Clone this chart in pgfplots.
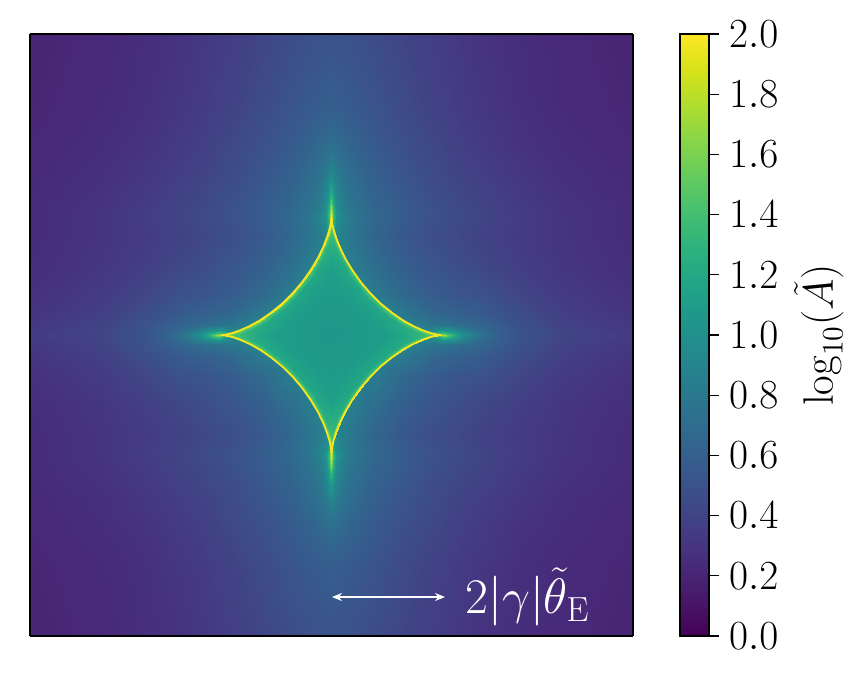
\RequirePackage{fix-cm}
\documentclass[border=0pt]{standalone}
\usepackage{pgfplots}
\usepackage{pgfplotstable}
\pgfplotsset{compat=1.18}
\usetikzlibrary{arrows.meta}

\definecolor{cyel}{HTML}{F5E51F}

% one quadrant, x and y in pixels from the centre; z = log10(A)
\pgfplotstableread[row sep=\\]{
x y z\\
0 0 .92\\ 2 0 .92\\ 5 0 .92\\ 10 0 .92\\ 20 0 .92\\ 40 0 .92\\ 70 0 .92\\ 100 0 1.0\\ 112 0 1.8\\ 120 0 1.35\\ 130 0 1.0\\ 145 0 .80\\ 165 0 .62\\ 190 0 .51\\ 230 0 .41\\ 302 0 .34\\
0 2 .92\\ 2 2 .92\\ 5 2 .92\\ 10 2 .92\\ 20 2 .92\\ 40 2 .92\\ 70 2 .92\\ 100 2 .95\\ 112 2 1.4\\ 120 2 1.2\\ 130 2 .98\\ 145 2 .78\\ 165 2 .61\\ 190 2 .51\\ 230 2 .41\\ 302 2 .34\\
0 5 .92\\ 2 5 .92\\ 5 5 .92\\ 10 5 .92\\ 20 5 .92\\ 40 5 .92\\ 70 5 .92\\ 100 5 .90\\ 112 5 1.05\\ 120 5 1.0\\ 130 5 .88\\ 145 5 .72\\ 165 5 .60\\ 190 5 .50\\ 230 5 .40\\ 302 5 .33\\
0 10 .92\\ 2 10 .92\\ 5 10 .92\\ 10 10 .92\\ 20 10 .92\\ 40 10 .92\\ 70 10 .92\\ 100 10 .78\\ 112 10 .76\\ 120 10 .74\\ 130 10 .70\\ 145 10 .66\\ 165 10 .58\\ 190 10 .49\\ 230 10 .39\\ 302 10 .32\\
0 20 .92\\ 2 20 .92\\ 5 20 .92\\ 10 20 .92\\ 20 20 .92\\ 40 20 .92\\ 70 20 .82\\ 100 20 .68\\ 112 20 .65\\ 120 20 .63\\ 130 20 .61\\ 145 20 .59\\ 165 20 .53\\ 190 20 .46\\ 230 20 .37\\ 302 20 .30\\
0 40 .92\\ 2 40 .92\\ 5 40 .92\\ 10 40 .92\\ 20 40 .92\\ 40 40 .85\\ 70 40 .68\\ 100 40 .58\\ 112 40 .56\\ 120 40 .54\\ 130 40 .52\\ 145 40 .51\\ 165 40 .47\\ 190 40 .41\\ 230 40 .34\\ 302 40 .28\\
0 70 .92\\ 2 70 .92\\ 5 70 .92\\ 10 70 .92\\ 20 70 .85\\ 40 70 .72\\ 70 70 .60\\ 100 70 .52\\ 112 70 .50\\ 120 70 .48\\ 130 70 .46\\ 145 70 .43\\ 165 70 .40\\ 190 70 .36\\ 230 70 .31\\ 302 70 .26\\
0 100 .92\\ 2 100 .92\\ 5 100 .92\\ 10 100 .86\\ 20 100 .78\\ 40 100 .66\\ 70 100 .55\\ 100 100 .47\\ 112 100 .46\\ 120 100 .44\\ 130 100 .42\\ 145 100 .40\\ 165 100 .37\\ 190 100 .34\\ 230 100 .30\\ 302 100 .25\\
0 120 2.0\\ 2 120 1.4\\ 5 120 1.05\\ 10 120 .92\\ 20 120 .80\\ 40 120 .68\\ 70 120 .58\\ 100 120 .50\\ 112 120 .48\\ 120 120 .46\\ 130 120 .44\\ 145 120 .42\\ 165 120 .38\\ 190 120 .35\\ 230 120 .30\\ 302 120 .25\\
0 128 1.75\\ 2 128 1.3\\ 5 128 1.0\\ 10 128 .87\\ 20 128 .77\\ 40 128 .66\\ 70 128 .57\\ 100 128 .49\\ 112 128 .47\\ 120 128 .45\\ 130 128 .43\\ 145 128 .41\\ 165 128 .38\\ 190 128 .34\\ 230 128 .29\\ 302 128 .25\\
0 138 1.35\\ 2 138 1.15\\ 5 138 .95\\ 10 138 .84\\ 20 138 .75\\ 40 138 .65\\ 70 138 .56\\ 100 138 .48\\ 112 138 .46\\ 120 138 .44\\ 130 138 .42\\ 145 138 .40\\ 165 138 .37\\ 190 138 .33\\ 230 138 .29\\ 302 138 .24\\
0 150 1.1\\ 2 150 1.0\\ 5 150 .90\\ 10 150 .80\\ 20 150 .72\\ 40 150 .63\\ 70 150 .54\\ 100 150 .46\\ 112 150 .44\\ 120 150 .43\\ 130 150 .41\\ 145 150 .39\\ 165 150 .36\\ 190 150 .32\\ 230 150 .28\\ 302 150 .24\\
0 165 .90\\ 2 165 .88\\ 5 165 .82\\ 10 165 .76\\ 20 165 .70\\ 40 165 .61\\ 70 165 .52\\ 100 165 .45\\ 112 165 .43\\ 120 165 .41\\ 130 165 .39\\ 145 165 .37\\ 165 165 .34\\ 190 165 .31\\ 230 165 .27\\ 302 165 .23\\
0 190 .72\\ 2 190 .72\\ 5 190 .70\\ 10 190 .68\\ 20 190 .64\\ 40 190 .57\\ 70 190 .49\\ 100 190 .43\\ 112 190 .41\\ 120 190 .39\\ 130 190 .37\\ 145 190 .35\\ 165 190 .32\\ 190 190 .29\\ 230 190 .26\\ 302 190 .22\\
0 230 .60\\ 2 230 .60\\ 5 230 .59\\ 10 230 .58\\ 20 230 .56\\ 40 230 .52\\ 70 230 .45\\ 100 230 .39\\ 112 230 .37\\ 120 230 .36\\ 130 230 .34\\ 145 230 .32\\ 165 230 .30\\ 190 230 .27\\ 230 230 .24\\ 302 230 .21\\
0 302 .50\\ 2 302 .50\\ 5 302 .50\\ 10 302 .50\\ 20 302 .49\\ 40 302 .46\\ 70 302 .41\\ 100 302 .36\\ 112 302 .35\\ 120 302 .34\\ 130 302 .32\\ 145 302 .30\\ 165 302 .28\\ 190 302 .26\\ 230 302 .23\\ 302 302 .20\\
}\bgtab

% inside of the astroid, rows run from the centre out to the caustic
\pgfplotstableread[row sep=\\]{
x y z\\
0 0 1.06\\ 0 0 1.06\\ 0 0 1.06\\ 0 0 1.06\\ 0 0 1.06\\ 0 0 1.06\\ 0 0 1.06\\ 0 0 1.06\\ 0 0 1.06\\ 0 0 1.06\\ 0 0 1.06\\ 0 0 1.06\\ 0 0 1.06\\ 0 0 1.06\\ 0 0 1.06\\ 0 0 1.06\\ 0 0 1.06\\ 0 0 1.06\\ 0 0 1.06\\
66 0 1.12\\ 65.2 .05 1.12\\ 63.1 .37 1.12\\ 59.5 1.22 1.11\\ 54.8 2.83 1.11\\ 49.1 5.35 1.10\\ 42.8 8.85 1.10\\ 36.3 13.4 1.09\\ 29.6 18.8 1.09\\ 23.3 25 1.09\\ 17.5 31.8 1.09\\ 12.5 38.9 1.09\\ 8.25 46 1.10\\ 5 52.7 1.10\\ 2.6 58.7 1.11\\ 1.1 63.8 1.11\\ .35 67.6 1.12\\ .04 70 1.12\\ 0 70.8 1.12\\
99 0 1.45\\ 97.8 .07 1.42\\ 94.6 .56 1.38\\ 89.2 1.84 1.32\\ 82.2 4.25 1.27\\ 73.7 8 1.23\\ 64.3 13.3 1.20\\ 54.5 20.1 1.19\\ 44.5 28.2 1.18\\ 35 37.5 1.18\\ 26.3 47.7 1.18\\ 18.7 58.4 1.19\\ 12.4 68.9 1.20\\ 7.5 79 1.23\\ 4 88.1 1.27\\ 1.7 95.7 1.32\\ .52 101.4 1.38\\ .06 105 1.42\\ 0 106.2 1.45\\
107.25 0 1.85\\ 106 .08 1.82\\ 102.5 .6 1.72\\ 96.6 2 1.62\\ 89 4.6 1.54\\ 79.9 8.7 1.49\\ 69.6 14.4 1.45\\ 59 21.7 1.43\\ 48.2 30.5 1.42\\ 37.9 40.7 1.42\\ 28.5 51.7 1.42\\ 20.3 63.3 1.43\\ 13.4 74.7 1.45\\ 8.1 85.6 1.49\\ 4.3 95.5 1.54\\ 1.85 103.6 1.62\\ .57 109.9 1.72\\ .07 113.8 1.82\\ 0 115 1.85\\
110 0 2\\ 108.7 .08 2\\ 105.1 .62 2\\ 99.1 2.04 2\\ 91.3 4.72 2\\ 81.9 8.91 2\\ 71.4 14.75 2\\ 60.5 22.3 2\\ 49.4 31.3 2\\ 38.9 41.7 2\\ 29.2 53 2\\ 20.8 64.9 2\\ 13.75 76.6 2\\ 8.3 87.8 2\\ 4.4 97.9 2\\ 1.9 106.3 2\\ .58 112.7 2\\ .07 116.7 2\\ 0 118 2\\
}\intab

\pgfplotstableread[row sep=\\]{
x y z\\
110 0 2\\ 108.7 .08 2\\ 105.1 .62 2\\ 99.1 2.04 2\\ 91.3 4.72 2\\ 81.9 8.91 2\\ 71.4 14.75 2\\ 60.5 22.3 2\\ 49.4 31.3 2\\ 38.9 41.7 2\\ 29.2 53 2\\ 20.8 64.9 2\\ 13.75 76.6 2\\ 8.3 87.8 2\\ 4.4 97.9 2\\ 1.9 106.3 2\\ .58 112.7 2\\ .07 116.7 2\\ 0 118 2\\
}\caustic

\begin{document}
\begin{tikzpicture}
\useasboundingbox (-15pt,-22pt) rectangle (415.5pt,318pt);
\begin{axis}[
    at={(0,0)}, anchor=south west,
    scale only axis,
    width=301.5pt, height=301pt,
    view={0}{90},
    xmin=-301.5, xmax=301.5, ymin=-301, ymax=301,
    xtick=\empty, ytick=\empty, ztick=\empty,
    axis line style={line width=.75pt},
    colormap/viridis,
    point meta min=0, point meta max=2,
    axis on top,
    colorbar,
    colorbar style={
        at={(parent axis.south east)}, anchor=south west,
        xshift=15pt, width=14.5pt, height=301pt,
        scale only axis,
        ymin=0, ymax=2,
        ytick distance=0.2,
        ytick pos=right,
        yticklabel pos=right,
        tick align=outside,
        major tick length=5pt,
        tick style={black, line width=.65pt},
        axis line style={line width=.75pt},
        yticklabel style={font=\fontsize{20.7}{25}\selectfont,
            /pgf/number format/fixed, /pgf/number format/fixed zerofill,
            /pgf/number format/precision=1, xshift=1.5pt},
        ylabel={$\log_{10}(\tilde{A})$},
        ylabel style={font=\fontsize{21.3}{25}\selectfont, yshift=-1pt},
    },
]
% background, the four quadrants
\addplot3[surf, shader=interp, mesh/rows=16, mesh/cols=16] table[x=x, y=y, z=z] {\bgtab};
\addplot3[surf, shader=interp, mesh/rows=16, mesh/cols=16] table[x expr=-\thisrow{x}, y=y, z=z] {\bgtab};
\addplot3[surf, shader=interp, mesh/rows=16, mesh/cols=16] table[x=x, y expr=-\thisrow{y}, z=z] {\bgtab};
\addplot3[surf, shader=interp, mesh/rows=16, mesh/cols=16] table[x expr=-\thisrow{x}, y expr=-\thisrow{y}, z=z] {\bgtab};
% inside the caustic
\addplot3[surf, shader=interp, mesh/rows=5, mesh/cols=19] table[x=x, y=y, z=z] {\intab};
\addplot3[surf, shader=interp, mesh/rows=5, mesh/cols=19] table[x expr=-\thisrow{x}, y=y, z=z] {\intab};
\addplot3[surf, shader=interp, mesh/rows=5, mesh/cols=19] table[x=x, y expr=-\thisrow{y}, z=z] {\intab};
\addplot3[surf, shader=interp, mesh/rows=5, mesh/cols=19] table[x expr=-\thisrow{x}, y expr=-\thisrow{y}, z=z] {\intab};
% the caustic itself
\addplot3[cyel, no marks, line width=.9pt] table[x=x, y=y, z=z] {\caustic};
\addplot3[cyel, no marks, line width=.9pt] table[x expr=-\thisrow{x}, y=y, z=z] {\caustic};
\addplot3[cyel, no marks, line width=.9pt] table[x=x, y expr=-\thisrow{y}, z=z] {\caustic};
\addplot3[cyel, no marks, line width=.9pt] table[x expr=-\thisrow{x}, y expr=-\thisrow{y}, z=z] {\caustic};
% scale arrow
\addplot3[white, no marks, line width=.6pt, {Stealth[length=5pt,width=4pt]}-{Stealth[length=5pt,width=4pt]}] coordinates {(.5,-262,2) (113.5,-262,2)};
\node[white, anchor=west, inner sep=0pt, font=\fontsize{24.9}{30}\selectfont] at (axis cs:133.5,-262,2) {$2|\gamma|\tilde{\theta}_{\mathrm{E}}$};
\end{axis}
\end{tikzpicture}
\end{document}
